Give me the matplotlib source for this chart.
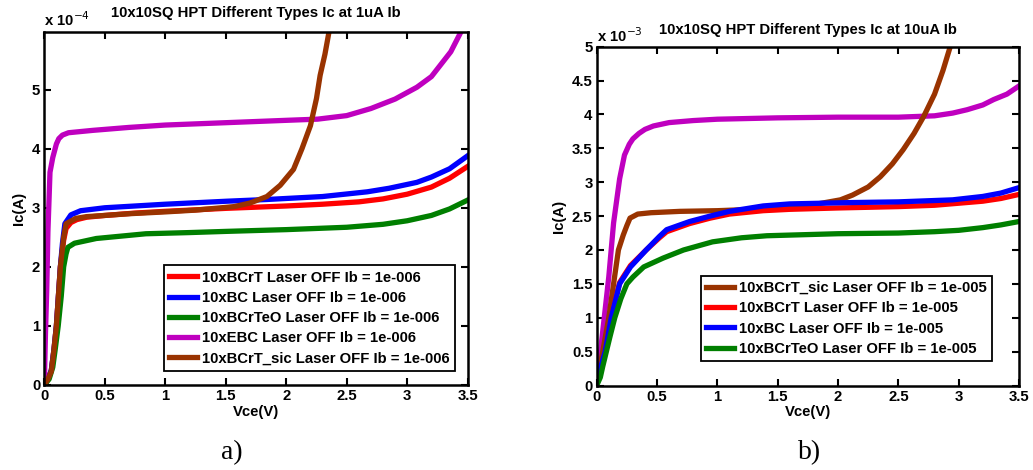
import matplotlib
matplotlib.use("Agg")
import matplotlib.pyplot as plt

# ---------------- data: panel a) (Ic in units of 1e-4 A) ----------------
a_title = "10x10SQ HPT Different Types Ic at 1uA Ib"
a_labels = ["10xBCrT Laser OFF Ib = 1e-006",
            "10xBC Laser OFF Ib = 1e-006",
            "10xBCrTeO Laser OFF Ib = 1e-006",
            "10xEBC Laser OFF Ib = 1e-006",
            "10xBCrT_sic Laser OFF Ib = 1e-006"]
a_bcrt_v = [0, 0.03, 0.058, 0.08, 0.1, 0.133, 0.16, 0.18, 0.22, 0.27, 0.35, 0.5, 0.75, 1.0, 1.5, 2.0, 2.3, 2.6, 2.8, 3.0, 3.2, 3.35, 3.5]
a_bcrt_i = [0, 0.1, 0.25, 0.6, 1.0, 2.0, 2.45, 2.65, 2.75, 2.8, 2.84, 2.87, 2.91, 2.94, 2.99, 3.03, 3.06, 3.1, 3.15, 3.23, 3.35, 3.5, 3.7]
a_bc_v = [0, 0.03, 0.058, 0.08, 0.1, 0.133, 0.15, 0.17, 0.22, 0.3, 0.5, 0.75, 1.0, 1.5, 1.84, 2.3, 2.67, 2.85, 3.08, 3.2, 3.35, 3.5]
a_bc_i = [0, 0.1, 0.25, 0.6, 1.0, 2.0, 2.4, 2.73, 2.88, 2.95, 3.0, 3.03, 3.06, 3.11, 3.14, 3.19, 3.27, 3.33, 3.43, 3.52, 3.66, 3.88]
a_bcrteo_v = [0, 0.04, 0.07, 0.09, 0.115, 0.14, 0.16, 0.18, 0.195, 0.25, 0.43, 0.84, 1.2, 1.5, 2.0, 2.5, 2.8, 3.0, 3.2, 3.35, 3.5]
a_bcrteo_i = [0, 0.1, 0.3, 0.6, 1.0, 1.5, 2.0, 2.22, 2.33, 2.4, 2.48, 2.56, 2.58, 2.6, 2.63, 2.67, 2.72, 2.78, 2.87, 2.98, 3.13]
a_ebc_v = [0, 0.01, 0.02, 0.03, 0.047, 0.07, 0.1, 0.12, 0.15, 0.2, 0.4, 0.7, 1.0, 1.5, 2.0, 2.26, 2.5, 2.7, 2.9, 3.08, 3.2, 3.36, 3.45]
a_ebc_i = [0, 0.9, 1.6, 2.6, 3.6, 3.85, 4.08, 4.17, 4.23, 4.27, 4.31, 4.36, 4.4, 4.44, 4.48, 4.5, 4.56, 4.68, 4.84, 5.04, 5.22, 5.64, 6.0]
a_sic_v = [0, 0.03, 0.058, 0.08, 0.1, 0.133, 0.16, 0.18, 0.26, 0.35, 0.5, 0.71, 1.0, 1.25, 1.57, 1.7, 1.84, 1.95, 2.06, 2.13, 2.2, 2.25, 2.28, 2.32, 2.36]
a_sic_i = [0, 0.1, 0.23, 0.6, 1.0, 2.0, 2.5, 2.73, 2.82, 2.85, 2.87, 2.9, 2.93, 2.96, 3.02, 3.08, 3.19, 3.38, 3.65, 4.0, 4.39, 4.85, 5.24, 5.6, 6.05]

# ---------------- data: panel b) (Ic in units of 1e-3 A) ----------------
b_title = "10x10SQ HPT Different Types Ic at 10uA Ib"
b_labels = ["10xBCrT_sic Laser OFF Ib = 1e-005",
            "10xBCrT Laser OFF Ib = 1e-005",
            "10xBC Laser OFF Ib = 1e-005",
            "10xBCrTeO Laser OFF Ib = 1e-005"]
b_ebc_v = [0, 0.05, 0.1, 0.14, 0.19, 0.23, 0.27, 0.3, 0.35, 0.4, 0.47, 0.6, 0.8, 1.0, 1.5, 2.0, 2.5, 2.8, 2.95, 3.07, 3.2, 3.29, 3.4, 3.5]
b_ebc_i = [0, 0.8, 1.6, 2.4, 3.05, 3.4, 3.56, 3.64, 3.72, 3.78, 3.83, 3.88, 3.91, 3.93, 3.95, 3.96, 3.96, 3.98, 4.02, 4.07, 4.14, 4.22, 4.3, 4.42]
b_sic_v = [0, 0.05, 0.1, 0.14, 0.18, 0.22, 0.25, 0.276, 0.34, 0.45, 0.69, 1.0, 1.3, 1.6, 1.8, 2.02, 2.12, 2.25, 2.35, 2.45, 2.54, 2.63, 2.71, 2.8, 2.87, 2.93, 2.96]
b_sic_i = [0, 0.5, 1.0, 1.5, 2.0, 2.22, 2.36, 2.47, 2.53, 2.55, 2.57, 2.58, 2.6, 2.63, 2.67, 2.74, 2.81, 2.93, 3.08, 3.27, 3.48, 3.72, 3.97, 4.3, 4.65, 5.0, 5.2]
b_bcrt_v = [0, 0.03, 0.07, 0.12, 0.19, 0.28, 0.41, 0.52, 0.58, 0.77, 0.94, 1.1, 1.38, 1.6, 2.0, 2.5, 2.8, 3.0, 3.2, 3.35, 3.5]
b_bcrt_i = [0, 0.25, 0.5, 1.0, 1.52, 1.77, 2.0, 2.18, 2.27, 2.39, 2.47, 2.53, 2.58, 2.6, 2.62, 2.64, 2.66, 2.69, 2.72, 2.76, 2.82]
b_bc_v = [0, 0.03, 0.07, 0.12, 0.19, 0.28, 0.41, 0.52, 0.58, 0.77, 0.94, 1.1, 1.38, 1.6, 2.12, 2.5, 2.8, 2.95, 3.2, 3.35, 3.5]
b_bc_i = [0, 0.25, 0.5, 1.0, 1.5, 1.75, 2.0, 2.2, 2.3, 2.42, 2.5, 2.57, 2.65, 2.68, 2.7, 2.71, 2.73, 2.74, 2.79, 2.84, 2.92]
b_bcrteo_v = [0, 0.03, 0.05, 0.08, 0.11, 0.15, 0.2, 0.25, 0.3, 0.39, 0.55, 0.72, 0.96, 1.2, 1.41, 2.0, 2.5, 2.8, 3.0, 3.2, 3.35, 3.5]
b_bcrteo_i = [0, 0.12, 0.28, 0.5, 0.72, 1.0, 1.28, 1.5, 1.6, 1.75, 1.88, 2.0, 2.12, 2.18, 2.21, 2.24, 2.25, 2.27, 2.29, 2.33, 2.37, 2.42]

a_yticks = [0, 1, 2, 3, 4, 5]
b_yticks = [0, 0.5, 1, 1.5, 2, 2.5, 3, 3.5, 4, 4.5, 5]
xticks = [0, 0.5, 1, 1.5, 2, 2.5, 3, 3.5]
xtick_labels = ["0", "0.5", "1", "1.5", "2", "2.5", "3", "3.5"]

RED = "#ff0000"
BLUE = "#0000ff"
GREEN = "#007f00"
MAGENTA = "#bf00bf"
BROWN = "#993300"

FONT = "Liberation Sans"
FS = 10.75
LW = 3.8

fig = plt.figure(figsize=(10.33, 4.70), dpi=100)
W, H = 1033.0, 470.0


def style_axes(ax, yticks):
    ax.set_xlim(0, 3.5)
    ax.set_xticks(xticks)
    ax.set_xticklabels(xtick_labels)
    ax.set_yticks(yticks)
    ax.set_yticklabels([("%g" % t) for t in yticks])
    for s in ax.spines.values():
        s.set_linewidth(1.8)
        s.set_color("black")
    ax.tick_params(direction="in", length=5, width=1.5, top=True, right=True,
                   labelsize=FS, pad=3)
    for lab in ax.get_xticklabels() + ax.get_yticklabels():
        lab.set_fontfamily(FONT)
        lab.set_fontweight("bold")
    ax.set_xlabel("Vce(V)", fontfamily=FONT, fontweight="bold", fontsize=FS, labelpad=1)
    ax.set_ylabel("Ic(A)", fontfamily=FONT, fontweight="bold", fontsize=FS, labelpad=4)


def make_legend(ax, anchor):
    leg = ax.legend(loc="lower right", bbox_to_anchor=anchor, frameon=True,
                    fancybox=False, edgecolor="black", borderpad=0.35, labelspacing=0.42,
                    handlelength=1.85, handletextpad=0.35, borderaxespad=0,
                    prop={"family": FONT, "weight": "bold", "size": FS})
    leg.get_frame().set_linewidth(1.3)
    leg.get_frame().set_alpha(1)
    return leg


# ---------------- panel a ----------------
axa = fig.add_axes([44.3 / W, 1 - 385 / H, (467.7 - 44.3) / W, (385 - 32.3) / H])
axa.plot(a_bcrt_v, a_bcrt_i, color=RED, lw=LW, label=a_labels[0])
axa.plot(a_bc_v, a_bc_i, color=BLUE, lw=LW, label=a_labels[1])
axa.plot(a_bcrteo_v, a_bcrteo_i, color=GREEN, lw=LW, label=a_labels[2])
axa.plot(a_ebc_v, a_ebc_i, color=MAGENTA, lw=LW, label=a_labels[3])
axa.plot(a_sic_v, a_sic_i, color=BROWN, lw=LW, label=a_labels[4])
axa.set_ylim(0, 5.97)
style_axes(axa, a_yticks)
axa.set_title(a_title, fontfamily=FONT, fontweight="bold", fontsize=FS, pad=11)
axa.text(0.0, 1.008, r"x 10$^{-4}$", transform=axa.transAxes, ha="left", va="bottom",
         fontfamily=FONT, fontweight="bold", fontsize=FS)
make_legend(axa, (0.970, 0.040))

# ---------------- panel b ----------------
axb = fig.add_axes([596.7 / W, 1 - 385.5 / H, (1019 - 596.7) / W, (385.5 - 46.7) / H])
axb.plot(b_ebc_v, b_ebc_i, color=MAGENTA, lw=LW)
axb.plot(b_sic_v, b_sic_i, color=BROWN, lw=LW, label=b_labels[0])
axb.plot(b_bcrt_v, b_bcrt_i, color=RED, lw=LW, label=b_labels[1])
axb.plot(b_bc_v, b_bc_i, color=BLUE, lw=LW, label=b_labels[2])
axb.plot(b_bcrteo_v, b_bcrteo_i, color=GREEN, lw=LW, label=b_labels[3])
axb.set_ylim(0, 5)
style_axes(axb, b_yticks)
axb.set_title(b_title, fontfamily=FONT, fontweight="bold", fontsize=FS, pad=9)
axb.text(0.0, 1.005, r"x 10$^{-3}$", transform=axb.transAxes, ha="left", va="bottom",
         fontfamily=FONT, fontweight="bold", fontsize=FS)
make_legend(axb, (0.936, 0.072))

# ---------------- captions ----------------
fig.text(232 / W, 1 - 453 / H, "a)", ha="center", va="center",
         fontfamily="Liberation Serif", fontsize=20)
fig.text(810 / W, 1 - 453 / H, "b)", ha="center", va="center",
         fontfamily="Liberation Serif", fontsize=20)

fig.savefig("out.png", dpi=100)
